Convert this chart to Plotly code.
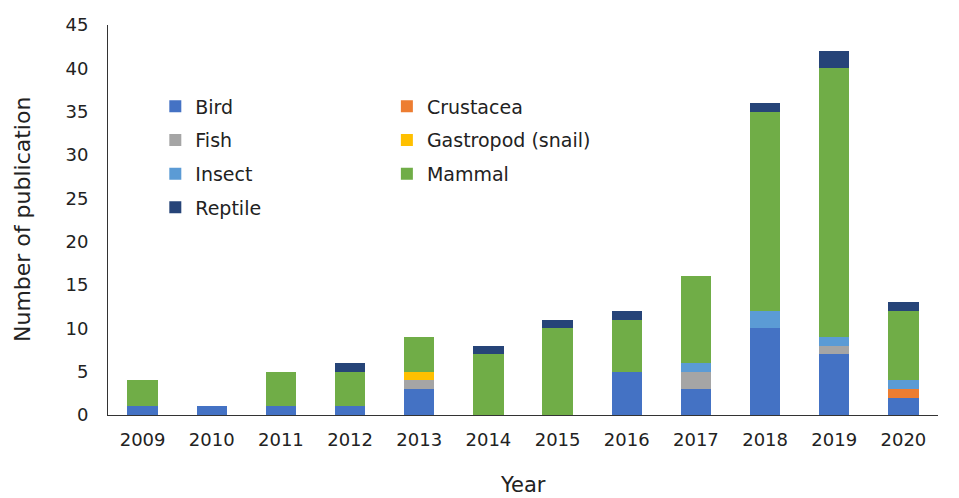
import plotly.graph_objects as go

years = ["2009", "2010", "2011", "2012", "2013", "2014", "2015", "2016", "2017", "2018", "2019", "2020"]

bird = [1, 1, 1, 1, 3, 0, 0, 5, 3, 10, 7, 2]
crustacea = [0, 0, 0, 0, 0, 0, 0, 0, 0, 0, 0, 1]
fish = [0, 0, 0, 0, 1, 0, 0, 0, 2, 0, 1, 0]
gastropod = [0, 0, 0, 0, 1, 0, 0, 0, 0, 0, 0, 0]
insect = [0, 0, 0, 0, 0, 0, 0, 0, 1, 2, 1, 1]
mammal = [3, 0, 4, 4, 4, 7, 10, 6, 10, 23, 31, 8]
reptile = [0, 0, 0, 1, 0, 1, 1, 1, 0, 1, 2, 1]

series = [
    ("Bird", bird, "#4472C4", "legend"),
    ("Crustacea", crustacea, "#ED7D31", "legend2"),
    ("Fish", fish, "#A5A5A5", "legend"),
    ("Gastropod (snail)", gastropod, "#FFC000", "legend2"),
    ("Insect", insect, "#5B9BD5", "legend"),
    ("Mammal", mammal, "#70AD47", "legend2"),
    ("Reptile", reptile, "#264478", "legend"),
]

fig = go.Figure()
for name, vals, color, leg in series:
    fig.add_trace(go.Bar(
        x=years, y=vals, name=name, marker_color=color,
        marker_line_width=0, legend=leg, legendgroup=name,
    ))

legend_style = dict(
    orientation="v", traceorder="grouped", bgcolor="rgba(0,0,0,0)",
    font=dict(family="DejaVu Sans", size=19, color="#222"),
    tracegroupgap=6, xanchor="left", yanchor="top", itemwidth=30,
)

fig.update_layout(
    barmode="stack",
    bargap=0.56,
    width=951, height=490,
    margin=dict(l=100, r=21, t=17, b=83),
    plot_bgcolor="white", paper_bgcolor="white",
    font=dict(family="DejaVu Sans", size=18, color="#222"),
    legend=dict(x=0.057, y=0.84, **legend_style),
    legend2=dict(x=0.336, y=0.84, **legend_style),
    xaxis=dict(
        showline=True, linecolor="#333", linewidth=1, ticks="", automargin=False,
        ticklabelstandoff=8,
    ),
    yaxis=dict(
        range=[0, 45], dtick=5, showline=True, linecolor="#333", linewidth=1,
        showgrid=False, zeroline=False, ticks="", ticklabelstandoff=15,
        automargin=False,
    ),
    annotations=[
        dict(text="Year", x=0.5, y=-0.18, xref="paper", yref="paper",
             showarrow=False, font=dict(size=21), xanchor="center", yanchor="middle"),
        dict(text="Number of publication", x=-0.1036, y=0.5, xref="paper", yref="paper",
             showarrow=False, textangle=-90, font=dict(size=22),
             xanchor="center", yanchor="middle"),
    ],
)

fig.write_html("out.html")
